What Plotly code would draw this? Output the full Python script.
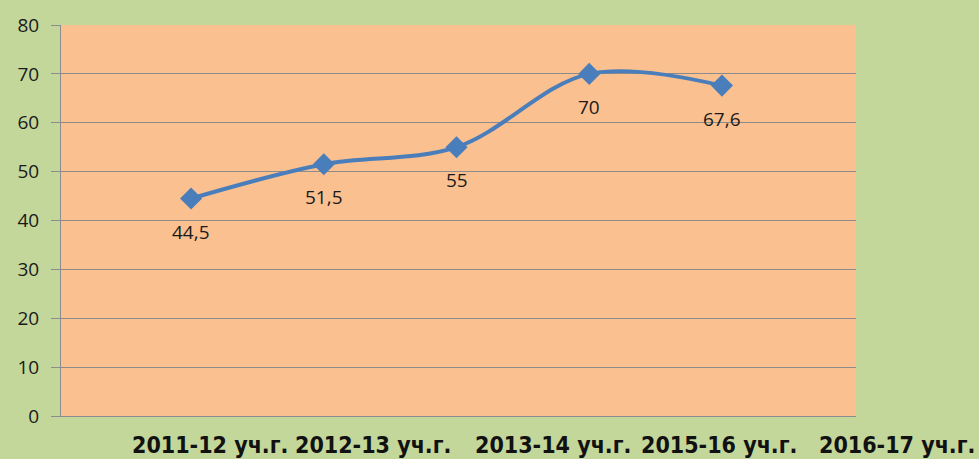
import plotly.graph_objects as go

# Data
years = ["2011-12 уч.г.", "2012-13 уч.г.", "2013-14 уч.г.", "2015-16 уч.г.", "2016-17 уч.г."]
point_pos = [1, 2, 3, 4, 5]
values = [44.5, 51.5, 55, 70, 67.6]
value_labels = ["44,5", "51,5", "55", "70", "67,6"]
y_ticks = [0, 10, 20, 30, 40, 50, 60, 70, 80]

# label placement (layout only, fraction of plot width)
label_pos = [0.1874, 0.3925, 0.6189, 0.8277, 1.0516]

fig = go.Figure()
fig.add_trace(go.Scatter(
    x=point_pos, y=values, mode="lines+markers",
    line=dict(color="#4A7EBB", width=4, shape="spline", smoothing=1.0),
    marker=dict(symbol="diamond", size=17, color="#4A7EBB"),
    hoverinfo="skip", showlegend=False,
))

for x, v, t in zip(point_pos, values, value_labels):
    fig.add_annotation(x=x, y=v, xref="x", yref="y", text=t, showarrow=False,
                       yshift=-33, font=dict(family="Open Sans", size=19, color="#1a1a1a"))

for x, t in zip(label_pos, years):
    fig.add_annotation(x=x, y=0, xref="paper", yref="paper", text="<b>" + t + "</b>",
                       showarrow=False, xanchor="center", yanchor="middle", yshift=-29,
                       font=dict(family="DejaVu Sans Condensed", size=23, color="#111111"))

fig.update_layout(
    width=979, height=459,
    margin=dict(l=61, r=123, t=20, b=43),
    paper_bgcolor="#C4D79B",
    plot_bgcolor="#FAC090",
    xaxis=dict(range=[0.02, 6.01], showticklabels=False, showgrid=False, zeroline=False,
               showline=True, linecolor="#8C8C8C", linewidth=1, ticks=""),
    yaxis=dict(range=[0, 80], tickvals=y_ticks, showgrid=True, gridcolor="#8C8C8C", gridwidth=1,
               zeroline=False, showline=True, linecolor="#8C8C8C", linewidth=1,
               ticks="outside", ticklen=9, tickcolor="#8C8C8C", ticklabelstandoff=8,
               tickfont=dict(family="Open Sans", size=19, color="#1a1a1a")),
)

fig.write_html("out.html", config={"displayModeBar": False},
               post_script="document.body.style.margin='0';document.body.style.overflow='hidden';")
